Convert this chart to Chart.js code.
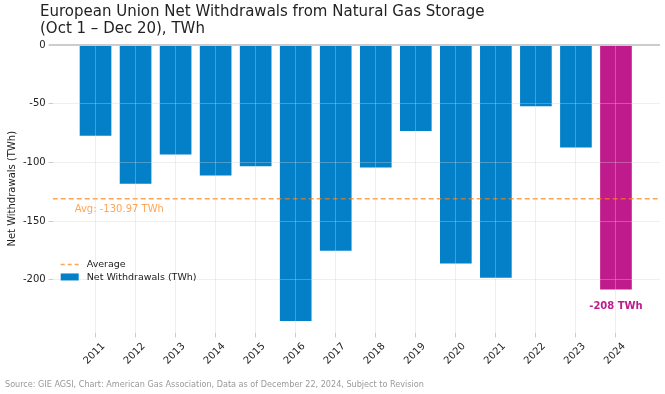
<!DOCTYPE html>
<html>
<head>
<meta charset="utf-8">
<script src="https://cdn.jsdelivr.net/npm/chart.js@4"></script>
<style>
  html, body { margin: 0; padding: 0; background: #fff; }
  #wrap { position: relative; width: 665px; height: 394px; font-family: 'DejaVu Sans', sans-serif; }
  #title { position: absolute; left: 40px; top: 3px; font-size: 15px; line-height: 17px; color: #222; }
  #source { position: absolute; left: 5px; top: 379px; font-size: 9px; color: #999; font-family: 'DejaVu Sans Condensed', 'DejaVu Sans', sans-serif; font-stretch: condensed; }
  canvas { position: absolute; left: 0; top: 0; }
</style>
</head>
<body>
<div id="wrap">
  <canvas id="chart" width="665" height="394"></canvas>
  <div id="title">European Union Net Withdrawals from Natural Gas Storage<br>(Oct 1 – Dec 20), TWh</div>
  <div id="source">Source: GIE AGSI, Chart: American Gas Association, Data as of December 22, 2024, Subject to Revision</div>
</div>
<script>
// values (TWh)
const years = [2011, 2012, 2013, 2014, 2015, 2016, 2017, 2018, 2019, 2020, 2021, 2022, 2023, 2024];
const withdrawals = [-77, -118, -93, -111, -103, -235, -175, -104, -73, -186, -198, -52, -87, -208];
const average = -130.97;
const yTicks = [0, -50, -100, -150, -200];

const BLUE = '#0380c8';
const MAGENTA = '#c01b8c';
const ORANGE = 'rgba(255,127,14,0.7)';
const GRID = 'rgba(210,210,210,0.35)';

const barData = years.map((y, i) => ({ x: y, y: withdrawals[i] }));
const xMin = 2009.93, xMax = 2025.1;

// labels + legend drawn in the plot area (after grid so legend sits on top)
const annotations = {
    id: 'annotations',
    afterDraw(chart) {
        const { ctx, chartArea, scales } = chart;
        const x = scales.x, y = scales.y;
        ctx.save();
        ctx.font = '10px "DejaVu Sans"';
        ctx.fillStyle = ORANGE;
        ctx.textBaseline = 'middle';
        ctx.textAlign = 'left';
        ctx.fillText('Avg: ' + average.toFixed(2) + ' TWh', chartArea.left + 22, y.getPixelForValue(average) + 11);

        const last = withdrawals.length - 1;
        ctx.font = 'bold 10px "DejaVu Sans"';
        ctx.fillStyle = MAGENTA;
        ctx.textAlign = 'center';
        ctx.fillText(withdrawals[last] + ' TWh', x.getPixelForValue(years[last]), y.getPixelForValue(withdrawals[last]) + 17);

        // legend
        const lx = chartArea.left + 8;
        const ly = y.getPixelForValue(-187);
        ctx.strokeStyle = ORANGE;
        ctx.lineWidth = 1.5;
        ctx.setLineDash([4, 3]);
        ctx.beginPath();
        ctx.moveTo(lx, ly);
        ctx.lineTo(lx + 18, ly);
        ctx.stroke();
        ctx.setLineDash([]);
        ctx.fillStyle = BLUE;
        ctx.fillRect(lx, ly + 9, 18, 7);
        ctx.font = '9.5px "DejaVu Sans"';
        ctx.fillStyle = '#222';
        ctx.textAlign = 'left';
        ctx.fillText('Average', lx + 26, ly);
        ctx.fillText('Net Withdrawals (TWh)', lx + 26, ly + 13);
        ctx.restore();
    }
};

new Chart(document.getElementById('chart'), {
    type: 'bar',
    data: {
        datasets: [
            {
                type: 'line',
                label: 'Average',
                data: [{ x: xMin, y: average }, { x: xMax, y: average }],
                borderColor: ORANGE,
                borderWidth: 1.6,
                borderDash: [5, 3],
                pointRadius: 0,
                order: 0
            },
            {
                label: 'Net Withdrawals (TWh)',
                data: barData,
                backgroundColor: years.map((y, i) => i === years.length - 1 ? MAGENTA : BLUE),
                borderWidth: 0,
                barThickness: 31,
                order: 1
            }
        ]
    },
    options: {
        responsive: false,
        animation: false,
        layout: { padding: { top: 45, right: 5, bottom: 24, left: 2 } },
        plugins: {
            legend: { display: false },
            tooltip: { enabled: false }
        },
        scales: {
            x: {
                type: 'linear',
                min: xMin,
                max: xMax,
                offset: false,
                afterBuildTicks(axis) { axis.ticks = years.map(v => ({ value: v })); },
                ticks: {
                    color: '#222',
                    font: { size: 10, family: 'DejaVu Sans' },
                    maxRotation: 45,
                    minRotation: 45,
                    autoSkip: false,
                    labelOffset: 8,
                    callback: v => String(v)
                },
                grid: { color: GRID, tickColor: '#ccc', tickLength: 5, offset: false, z: 1 },
                border: { display: false }
            },
            y: {
                min: -245,
                max: 0,
                afterBuildTicks(axis) { axis.ticks = yTicks.map(v => ({ value: v })); },
                ticks: {
                    color: '#222',
                    font: { size: 10, family: 'DejaVu Sans' },
                    padding: 3
                },
                grid: {
                    z: 1,
                    color: ctx => ctx.tick && ctx.tick.value === 0 ? '#ccc' : GRID,
                    lineWidth: ctx => ctx.tick && ctx.tick.value === 0 ? 2 : 1,
                    tickColor: '#ccc',
                    tickLength: 4
                },
                border: { display: false },
                title: {
                    display: true,
                    text: 'Net Withdrawals (TWh)',
                    color: '#222',
                    font: { size: 10, family: 'DejaVu Sans' },
                    padding: { bottom: 2 }
                }
            }
        }
    },
    plugins: [annotations]
});
</script>
</body>
</html>
